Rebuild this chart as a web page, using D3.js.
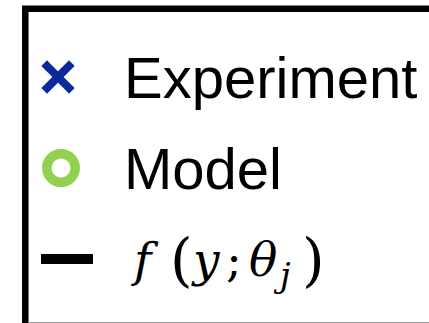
<!DOCTYPE html>
<html>
<head>
<meta charset="utf-8">
<script src="https://cdn.jsdelivr.net/npm/d3@7"></script>
<style>
  html, body { margin: 0; padding: 0; background: #fff; }
  svg { display: block; }
</style>
</head>
<body>
<svg id="chart" width="429" height="323"></svg>
<script>
// Legend entries
const labels = ["Experiment", "Model", "f(y;θj)"];
const symbols = ["cross", "ring", "line"];
const colors = ["#0a2a9c", "#92d050", "#000000"];

const svg = d3.select("#chart");
const W = 429, H = 323;

// row positions on a point scale
const y = d3.scalePoint().domain(labels).range([77, 259]);

// frame: left and top edges, clipped by the canvas on the right and bottom
svg.append("path")
  .attr("d", `M25.3,${H + 2} V8.8 H${W + 5}`)
  .attr("fill", "none")
  .attr("stroke", "#000")
  .attr("stroke-width", 6.5);
svg.append("line")
  .attr("x1", 28.5).attr("x2", W)
  .attr("y1", 322.5).attr("y2", 322.5)
  .attr("stroke", "#999").attr("stroke-width", 1);

const rows = svg.selectAll("g.row")
  .data(labels.map((l, i) => ({ label: l, symbol: symbols[i], color: colors[i] })))
  .join("g")
  .attr("class", "row")
  .attr("transform", d => `translate(0,${y(d.label)})`);

rows.each(function (d) {
  const g = d3.select(this);
  if (d.symbol === "cross") {
    const s = 11;
    g.append("path")
      .attr("d", `M${58 - s},${-s} L${58 + s},${s} M${58 + s},${-s} L${58 - s},${s}`)
      .attr("stroke", d.color).attr("stroke-width", 8)
      .attr("stroke-linecap", "square").attr("fill", "none");
  } else if (d.symbol === "ring") {
    g.append("circle")
      .attr("cx", 61).attr("cy", 0).attr("r", 14.2)
      .attr("fill", "none").attr("stroke", d.color).attr("stroke-width", 9.5);
  } else {
    g.append("line")
      .attr("x1", 41).attr("x2", 93).attr("y1", 0).attr("y2", 0)
      .attr("stroke", d.color).attr("stroke-width", 10);
  }
});

// plain labels
rows.filter(d => d.symbol !== "line")
  .append("text")
  .attr("x", 124)
  .attr("y", 20.5)
  .attr("font-family", "Liberation Sans, Arial, sans-serif")
  .attr("font-size", 58)
  .attr("fill", "#000")
  .text(d => d.label);

// math label f(y;θ_j), each glyph set in place like a math layout
const math = rows.filter(d => d.symbol === "line")
  .append("text")
  .attr("y", 17)
  .attr("font-family", "DejaVu Serif, serif")
  .attr("font-size", 47)
  .attr("fill", "#000");
const parts = [
  { t: "f", it: true, x: 134 },
  { t: "(", it: false, x: 170, size: 58, dy: 4 },
  { t: "y", it: true, x: 193 },
  { t: ";", it: false, x: 226 },
  { t: "θ", it: true, x: 249 },
  { t: "j", it: true, x: 280, size: 34, dy: 11 },
  { t: ")", it: false, x: 302, size: 58, dy: 4 }
];
let prevDy = 0;
parts.forEach(p => {
  const dy = (p.dy || 0) - prevDy;
  prevDy = p.dy || 0;
  const ts = math.append("tspan")
    .attr("x", p.x)
    .attr("dy", dy)
    .attr("font-style", p.it ? "italic" : "normal")
    .text(p.t);
  if (p.size) ts.attr("font-size", p.size);
});
</script>
</body>
</html>
